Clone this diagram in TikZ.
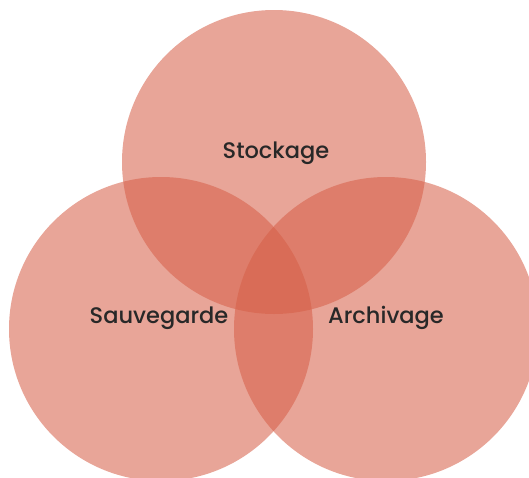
\documentclass[tikz,border=0pt]{standalone}
\usepackage{fontspec}
\setmainfont{Poppins}[UprightFont=* Medium]
\definecolor{venn}{RGB}{214,96,73}
\definecolor{txt}{RGB}{40,40,40}
\begin{document}
\begin{tikzpicture}[x=1pt,y=1pt,
  vcircle/.style={fill=venn,fill opacity=0.57,draw=none},
  lbl/.style={text=txt,font=\fontsize{22.5}{26}\selectfont,inner sep=0pt}]
\useasboundingbox (0,0) rectangle (529,-477);
\begin{scope}
\clip (0,0) rectangle (529,-477);
\path[vcircle] (274,-162) circle (152);
\path[vcircle] (161,-329) circle (152);
\path[vcircle] (386,-329) circle (152);
\end{scope}
\node[lbl] (s) at (276,-153) {Stockage};
\node[lbl] (v) at (159,-318) {Sauvegarde};
\node[lbl] (a) at (386,-318) {Archivage};
\end{tikzpicture}
\end{document}
